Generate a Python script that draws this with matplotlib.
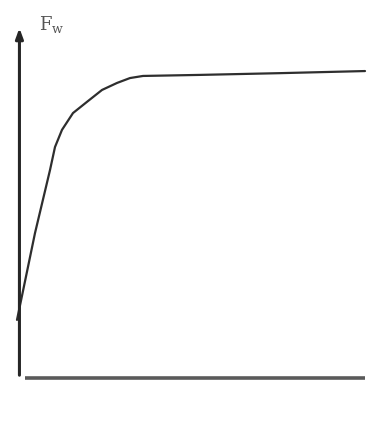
import matplotlib
matplotlib.use("Agg")
import matplotlib.pyplot as plt

plt.rcParams["mathtext.fontset"] = "dejavuserif"

# Sketch of F_w rising steeply, bending over and levelling off
x_vals = [0.0, 0.517, 0.948, 1.092, 1.293, 1.609, 2.011, 2.443, 2.874,
          3.247, 3.621, 5.26, 7.56, 10.0]
fw_vals = [0.166, 0.414, 0.594, 0.660, 0.709, 0.757, 0.789, 0.823, 0.843,
           0.857, 0.863, 0.866, 0.871, 0.877]
y_label = r"$\mathrm{F}_\mathrm{w}$"

fig = plt.figure(figsize=(3.67, 4.24), dpi=100)
ax = fig.add_axes([17 / 367, 46 / 424, 348 / 367, 350 / 424])
ax.set_xlim(0, 10)
ax.set_ylim(0, 1)
ax.axis("off")

# curve
ax.plot(x_vals, fw_vals, color="#2e2e2e", linewidth=1.6,
        solid_capstyle="round", solid_joinstyle="round", clip_on=False)

# horizontal axis (starts a little right of the vertical one)
ax.plot([0.23, 10.0], [0.0, 0.0], color="#5a5a5a", linewidth=2.6,
        solid_capstyle="butt", clip_on=False)

# vertical axis with arrow head
ax.annotate("", xy=(0.07, 1.0), xytext=(0.07, 0.008),
            arrowprops=dict(arrowstyle="-|>,head_length=0.6,head_width=0.22",
                            color="#262626", lw=2.2, shrinkA=0, shrinkB=0),
            annotation_clip=False)

ax.text(0.62, 0.995, y_label, fontsize=13, color="#555555",
        va="baseline", ha="left", clip_on=False)

fig.savefig("out.png", dpi=100, facecolor="white")
